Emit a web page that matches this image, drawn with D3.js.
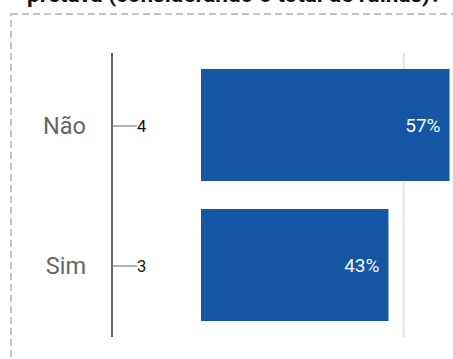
<!DOCTYPE html>
<html>
<head>
<meta charset="utf-8">
<script src="https://cdn.jsdelivr.net/npm/d3@7"></script>
<style>
  html, body { margin: 0; padding: 0; background: #fff; overflow: hidden; }
  svg { display: block; font-family: Roboto, "Noto Sans", sans-serif; }
</style>
</head>
<body>
<svg id="chart" width="453" height="359"></svg>
<script>
// Question title (only its last line is in view)
const titleLine = "pretava (considerando o total de ruínas)?";

// Answers, counts and shares
const categories = ["Não", "Sim"];
const counts = [4, 3];
const shares = [57, 43];
const shareLabels = ["57%", "43%"];

// Reference gridline on the value axis (percent)
const gridValues = [46.5];

const W = 453, H = 359;
const svg = d3.select("#chart");

// Dashed panel frame
svg.append("rect")
  .attr("x", 11).attr("y", 14)
  .attr("width", W + 40).attr("height", H + 40)
  .attr("fill", "none")
  .attr("stroke", "#c4c4c4")
  .attr("stroke-width", 2)
  .attr("stroke-dasharray", "7,4");

// Title
svg.append("text")
  .attr("x", 27).attr("y", 2)
  .attr("font-size", 22.5).attr("font-weight", "bold")
  .attr("fill", "#111")
  .text(titleLine);

const axisX = 112;
const y = d3.scaleBand()
  .domain(categories)
  .range([53, 337])
  .paddingInner(0.2)
  .paddingOuter(0.114);

const x = d3.scaleLinear()
  .domain([0, 100])
  .range([201, 201 + 436]);

// Gridline
svg.selectAll("line.grid")
  .data(gridValues)
  .join("line")
  .attr("class", "grid")
  .attr("x1", d => x(d)).attr("x2", d => x(d))
  .attr("y1", 53).attr("y2", 337)
  .attr("stroke", "#e6e6e6")
  .attr("stroke-width", 2);

// Bars
svg.selectAll("rect.bar")
  .data(categories)
  .join("rect")
  .attr("class", "bar")
  .attr("x", x(0))
  .attr("y", d => y(d))
  .attr("width", (d, i) => x(shares[i]) - x(0))
  .attr("height", y.bandwidth())
  .attr("fill", "#1456a3");

// Share labels inside bar ends
svg.selectAll("text.val")
  .data(categories)
  .join("text")
  .attr("class", "val")
  .attr("x", (d, i) => x(shares[i]) - 9)
  .attr("y", d => y(d) + y.bandwidth() / 2)
  .attr("dy", "0.36em")
  .attr("text-anchor", "end")
  .attr("font-size", 19)
  .attr("fill", "#f4f6fa")
  .text((d, i) => shareLabels[i]);

// Category axis line
svg.append("line")
  .attr("x1", axisX).attr("x2", axisX)
  .attr("y1", 53).attr("y2", 337)
  .attr("stroke", "#666")
  .attr("stroke-width", 2);

// Ticks with counts
const ticks = svg.selectAll("g.tick")
  .data(categories)
  .join("g")
  .attr("class", "tick")
  .attr("transform", d => `translate(0,${y(d) + y.bandwidth() / 2 + 1})`);

ticks.append("line")
  .attr("x1", axisX + 1).attr("x2", 137)
  .attr("stroke", "#999")
  .attr("stroke-width", 1.5);

ticks.append("text")
  .attr("x", 137)
  .attr("dy", "0.36em")
  .attr("font-size", 16.5)
  .attr("fill", "#111")
  .text((d, i) => counts[i]);

// Category names
ticks.append("text")
  .attr("x", 86)
  .attr("dy", "0.36em")
  .attr("text-anchor", "end")
  .attr("font-size", 23.5)
  .attr("fill", "#666")
  .text(d => d);
</script>
</body>
</html>
